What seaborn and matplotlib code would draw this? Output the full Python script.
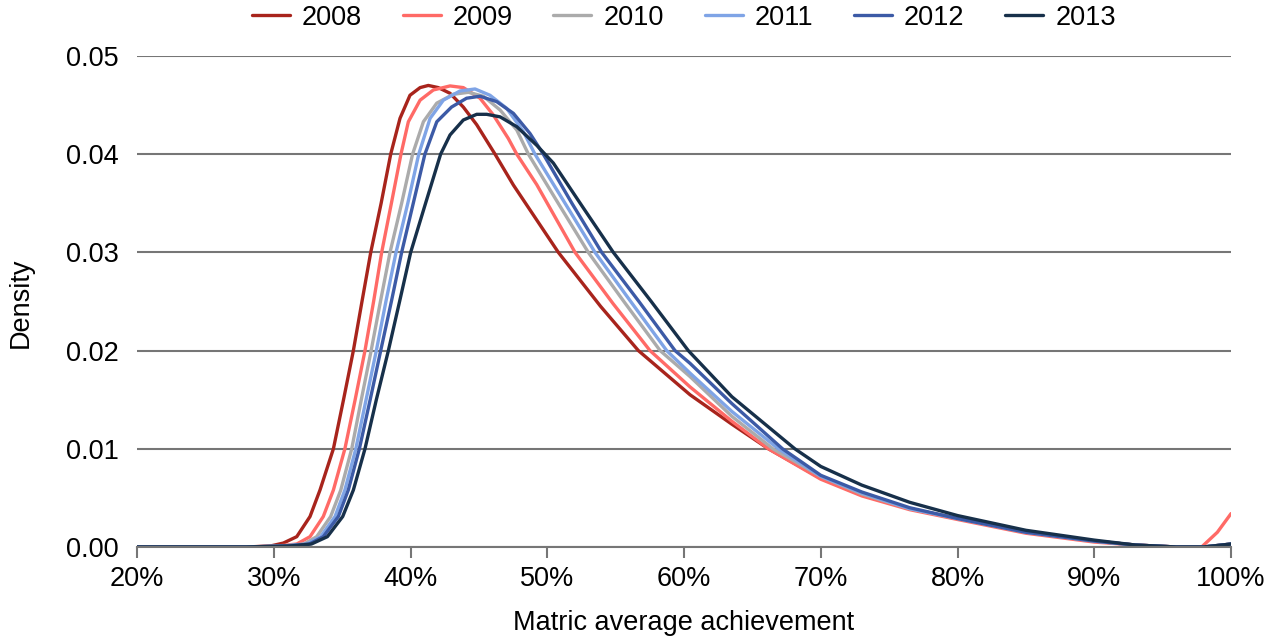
import pandas as pd
import numpy as np
import matplotlib
matplotlib.use("Agg")
import matplotlib.pyplot as plt
import seaborn as sns
from matplotlib.ticker import FuncFormatter

#%% Data (x in %, density)

years = ["2008", "2009", "2010", "2011", "2012", "2013"]

x_2008 = [20, 28, 29.75, 30.7, 31.68, 32.65, 33.38, 34.36, 35.1, 35.82, 36.45, 37.09, 37.85, 38.55, 39.23, 39.96, 40.7, 41.3, 42.03, 42.89, 43.86, 44.84, 46.18, 47.52, 50.81, 53.9, 56.66, 60.44, 63.5, 66.17, 70, 73, 76.5, 80, 85, 90, 93, 96, 98, 100]
y_2008 = [0, 0, 0.0001, 0.0004, 0.00105, 0.0031, 0.0058, 0.01, 0.015, 0.02, 0.025, 0.03, 0.035, 0.04, 0.04365, 0.046, 0.04678, 0.047, 0.04678, 0.0462, 0.0448, 0.043, 0.04, 0.03686, 0.03, 0.0245, 0.02, 0.0155, 0.0125, 0.01, 0.007, 0.0053, 0.0039, 0.0029, 0.0016, 0.0006, 0.0002, 0.0, 0.0, 0.0003]

x_2009 = [20, 28, 30.3, 31.68, 32.65, 33.62, 34.36, 35.2, 35.95, 36.67, 37.3, 37.89, 38.6, 39.3, 39.84, 40.7, 41.67, 42.89, 43.86, 45.08, 46.05, 47.15, 47.77, 49.23, 52.03, 54.8, 57.51, 60.44, 63.5, 66.17, 70, 73, 76.5, 80, 85, 90, 93, 96, 97.85, 99, 100]
y_2009 = [0, 0, 0.0001, 0.0003, 0.00105, 0.0031, 0.0058, 0.01, 0.015, 0.02, 0.025, 0.03, 0.035, 0.04, 0.0433, 0.0455, 0.04654, 0.04695, 0.04678, 0.0457, 0.044, 0.0416, 0.04, 0.0369, 0.03, 0.0248, 0.02, 0.0163, 0.0128, 0.01, 0.0069, 0.0052, 0.0038, 0.0028, 0.0014, 0.0005, 0.0002, 0.0, 0.0, 0.0015, 0.0034]

x_2010 = [20, 28, 30.5, 32.2, 33.14, 34.16, 34.9, 35.7, 36.4, 37.12, 37.8, 38.5, 39.35, 40.15, 40.94, 41.92, 43.13, 44.23, 45.33, 46.55, 47.77, 48.62, 50.8, 53.0, 55.6, 58.25, 60.44, 63.5, 66.5, 70, 73, 76.5, 80, 85, 90, 93, 96, 98, 100]
y_2010 = [0, 0, 0.0001, 0.0003, 0.00105, 0.0031, 0.0058, 0.01, 0.015, 0.02, 0.025, 0.03, 0.035, 0.04, 0.0433, 0.0452, 0.0461, 0.0463, 0.0459, 0.0445, 0.04246, 0.04, 0.035, 0.03, 0.025, 0.02, 0.01735, 0.0133, 0.01, 0.0072, 0.0054, 0.0039, 0.0029, 0.0015, 0.0006, 0.0002, 0.0, 0.0, 0.0003]

x_2011 = [20, 28, 30.7, 32.4, 33.43, 34.48, 35.2, 36.0, 36.75, 37.5, 38.2, 38.94, 39.8, 40.6, 41.43, 42.4, 43.62, 44.72, 45.81, 47.03, 48.25, 49.1, 51.3, 53.49, 56.1, 58.73, 60.44, 63.5, 66.9, 70, 73, 76.5, 80, 85, 90, 93, 96, 98, 100]
y_2011 = [0, 0, 0.0001, 0.0003, 0.00105, 0.0031, 0.0058, 0.01, 0.015, 0.02, 0.025, 0.03, 0.035, 0.04, 0.04365, 0.0455, 0.04644, 0.04664, 0.046, 0.04467, 0.0423, 0.04, 0.035, 0.03, 0.025, 0.02, 0.0177, 0.0138, 0.01, 0.0072, 0.0055, 0.0039, 0.0029, 0.0015, 0.0006, 0.0002, 0.0, 0.0, 0.0003]

x_2012 = [20, 28, 30.9, 32.6, 33.62, 34.72, 35.45, 36.26, 37.05, 37.82, 38.6, 39.35, 40.2, 41.05, 41.92, 43.0, 44.1, 45.08, 46.3, 47.52, 48.74, 49.71, 51.8, 53.98, 56.7, 59.34, 60.44, 63.5, 67.2, 70, 73, 76.5, 80, 85, 90, 93, 96, 98, 100]
y_2012 = [0, 0, 0.0001, 0.0003, 0.00105, 0.0031, 0.0058, 0.01, 0.015, 0.02, 0.025, 0.03, 0.035, 0.04, 0.0433, 0.0448, 0.0457, 0.0459, 0.04535, 0.04416, 0.0421, 0.04, 0.035, 0.03, 0.025, 0.02, 0.0187, 0.0146, 0.01, 0.0073, 0.0056, 0.004, 0.0029, 0.0015, 0.0006, 0.0002, 0.0, 0.0, 0.0003]

x_2013 = [20, 28, 31.2, 32.75, 33.92, 35.04, 35.82, 36.67, 37.5, 38.38, 39.2, 40.01, 41.1, 42.2, 42.89, 43.86, 44.84, 45.57, 46.55, 47.77, 49.23, 50.44, 52.6, 54.83, 57.6, 60.31, 63.5, 68.1, 70, 73, 76.5, 80, 85, 90, 93, 96, 98, 100]
y_2013 = [0, 0, 0.0001, 0.0003, 0.00105, 0.0031, 0.0058, 0.01, 0.015, 0.02, 0.025, 0.03, 0.035, 0.04, 0.04196, 0.04348, 0.04406, 0.04406, 0.0438, 0.0428, 0.0409, 0.0391, 0.0346, 0.03, 0.025, 0.02, 0.0153, 0.01, 0.0082, 0.0063, 0.00455, 0.0032, 0.0017, 0.0007, 0.0002, 0.0, 0.0, 0.0003]

colors = ["#A8241C", "#FF6A66", "#ABABAB", "#7FA4E6", "#3C5AA6", "#17304A"]

#%% Long table for seaborn

xs = [x_2008, x_2009, x_2010, x_2011, x_2012, x_2013]
ys = [y_2008, y_2009, y_2010, y_2011, y_2012, y_2013]
frames = []
for yr, xv, yv in zip(years, xs, ys):
    frames.append(pd.DataFrame({"x": xv, "density": yv, "year": yr}))
df = pd.concat(frames, ignore_index = True)

#%% Plot

sns.set_style("white")
plt.rcParams['font.family'] = ['Liberation Sans', 'DejaVu Sans']
plt.rcParams['text.color'] = 'black'
plt.rcParams['axes.labelcolor'] = 'black'

fig = plt.figure(figsize = (12.83, 6.42), dpi = 100)
ax = fig.add_axes([0.1068, 0.148, 0.8527, 0.7648])

sns.lineplot(data = df, x = "x", y = "density", hue = "year",
             palette = dict(zip(years, colors)), estimator = None,
             sort = False, linewidth = 2.4, ax = ax, legend = True)

ax.set_xlim(20, 100)
ax.set_ylim(0, 0.05)
ax.set_xticks(np.arange(20, 101, 10))
ax.set_yticks(np.arange(0, 0.051, 0.01))
ax.xaxis.set_major_formatter(FuncFormatter(lambda v, p: "%d%%" % v))
ax.yaxis.set_major_formatter(FuncFormatter(lambda v, p: "%.2f" % v))

ax.yaxis.grid(True, color = "#767676", linewidth = 1.5)
ax.set_axisbelow(True)
for s in ["left", "right", "top"]:
    ax.spines[s].set_visible(False)
ax.spines["bottom"].set_color("#767676")
ax.spines["bottom"].set_linewidth(1.5)
ax.tick_params(axis = "x", direction = "out", length = 8, width = 1.5,
               color = "#767676", labelcolor = "black", labelsize = 19.5,
               pad = 6, bottom = True)
ax.tick_params(axis = "y", length = 0, labelsize = 19.5, labelcolor = "black",
               pad = 13)

ax.set_xlabel("Matric average achievement", fontsize = 19.5)
ax.set_ylabel("Density", fontsize = 19.5)
ax.xaxis.set_label_coords(0.5, -0.128)
ax.yaxis.set_label_coords(-0.094, 0.497)

handles, labels = ax.get_legend_handles_labels()
ax.get_legend().remove()
fig.legend(handles, labels, loc = "center", bbox_to_anchor = (0.533, 0.972),
           ncol = 6, frameon = False, fontsize = 19.5, handlelength = 1.4,
           columnspacing = 1.5, handletextpad = 0.45)

fig.savefig("out.png", dpi = 100)
